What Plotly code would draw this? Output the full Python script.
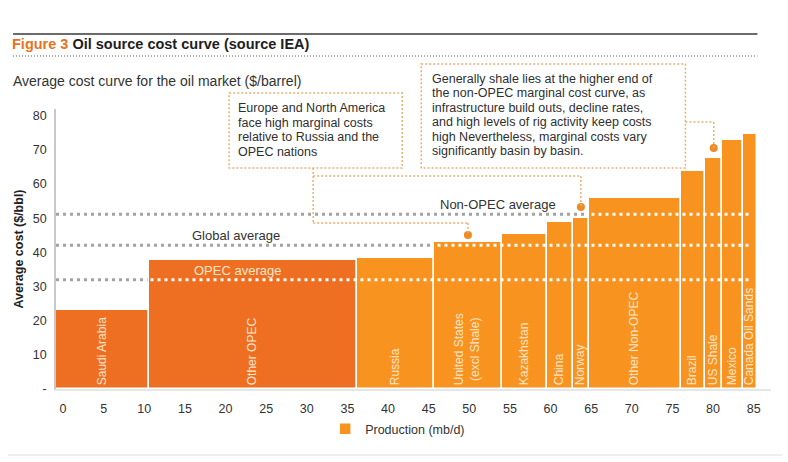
import plotly.graph_objects as go

# ---------------- data ----------------
sources = ["Saudi Arabia", "Other OPEC", "Russia", "United States<br>(excl Shale)", "Kazakhstan",
           "China", "Norway", "Other Non-OPEC", "Brazil", "US Shale", "Mexico", "Canada Oil Sands"]
production = [11.4, 25.6, 9.5, 8.4, 5.5, 3.2, 2.0, 11.3, 3.0, 2.1, 2.5, 1.8]   # mb/d (bar widths)
cost = [23.1, 37.7, 38.5, 43.1, 45.5, 48.9, 50.2, 56.0, 63.8, 67.7, 73.0, 74.8]  # $/bbl
is_opec = [True, True, False, False, False, False, False, False, False, False, False, False]

avg_names = ["OPEC average", "Global average", "Non-OPEC average"]
avg_values = [32.0, 42.1, 51.2]

x_ticks = list(range(0, 90, 5))
y_ticks = [0, 10, 20, 30, 40, 50, 60, 70, 80]
y_ticktext = ["-", "10", "20", "30", "40", "50", "60", "70", "80"]

note1_lines = ["Europe and North America", "face high marginal costs",
               "relative to Russia and the", "OPEC nations"]
note2_lines = ["Generally shale lies at the higher end of", "the non-OPEC marginal cost curve, as",
               "infrastructure build outs, decline rates,", "and high levels of rig activity keep costs",
               "high Nevertheless, marginal costs vary", "significantly basin by basin."]

# ---------------- layout geometry ----------------
FONT = "Liberation Sans, Arial, Helvetica, sans-serif"
OPEC_C = "#EE6E22"
NON_C = "#F7931E"
DOT_C = "#F08A24"
BOX_C = "#EDB070"
WIDTH, HEIGHT = 788, 462
L, T, B = 56, 109, 73
X_MAX, Y_MAX = 88.0, 82.0
PX_PER_UNIT = 8.12
PW = X_MAX * PX_PER_UNIT
PH = HEIGHT - T - B
R = WIDTH - L - PW


def pxx(px):
    return (px - L) / PW


def pxy(py):
    return (HEIGHT - B - py) / PH


def dx(v):
    return L + v / X_MAX * PW


def dy(v):
    return HEIGHT - B - v / Y_MAX * PH


starts = []
s = 0.0
for w in production:
    starts.append(s)
    s += w
total = s
mids = [a + w / 2 for a, w in zip(starts, production)]

fig = go.Figure()
for flag, name, show in [(True, "OPEC", False), (False, "Production (mb/d)", True)]:
    idx = [i for i in range(len(sources)) if is_opec[i] == flag]
    fig.add_trace(go.Bar(
        x=[mids[i] for i in idx], y=[cost[i] for i in idx], width=[production[i] for i in idx],
        text=[sources[i] for i in idx], textposition="inside", textangle=-90,
        insidetextanchor="start", textfont=dict(color="#FFE6CC", size=12, family=FONT),
        marker=dict(color=OPEC_C if flag else NON_C, line=dict(color="white", width=1.5)),
        name=name, showlegend=show, hoverinfo="skip"))

# callout dots above selected bars
callout_idx = [6, 3, 9]
dot_x = [mids[i] for i in callout_idx]
dot_y = [cost[6] + 3.1, cost[3] + 2.0, cost[9] + 2.9]
fig.add_trace(go.Scatter(x=dot_x, y=dot_y, mode="markers", cliponaxis=False,
                         marker=dict(color=DOT_C, size=8), showlegend=False, hoverinfo="skip"))

shapes = []
annots = []
# average lines: grey under bars, white over bars (white dots offset by half a period so they
# fall into the gaps of the grey pattern on the white background)
half = 3.5 / PX_PER_UNIT
for v in avg_values:
    shapes.append(dict(type="line", xref="x", yref="y", x0=0, x1=total - 1.0, y0=v, y1=v,
                       line=dict(color="#A2A2A2", width=3, dash="3px,4px"), layer="below"))
    shapes.append(dict(type="line", xref="x", yref="y", x0=half, x1=total - 1.0, y0=v, y1=v,
                       line=dict(color="white", width=3, dash="3px,4px"), layer="above"))

annots.append(dict(x=22.3, y=avg_values[0] + 2.8, xref="x", yref="y", text=avg_names[0],
                   showarrow=False, font=dict(color="#FFE6CC", size=13, family=FONT)))
annots.append(dict(x=22.2, y=avg_values[1] + 2.8, xref="x", yref="y", text=avg_names[1],
                   showarrow=False, font=dict(color="#333333", size=13, family=FONT)))
annots.append(dict(x=54.4, y=avg_values[2] + 2.7, xref="x", yref="y", text=avg_names[2],
                   showarrow=False, font=dict(color="#333333", size=13, family=FONT)))

# header lines
shapes.append(dict(type="line", xref="paper", yref="paper", x0=pxx(13), x1=pxx(757), y0=pxy(34), y1=pxy(34),
                   line=dict(color="#3A3A3A", width=1.6)))
shapes.append(dict(type="line", xref="paper", yref="paper", x0=pxx(13), x1=pxx(757), y0=pxy(56), y1=pxy(56),
                   line=dict(color="#555555", width=1, dash="1px,2px")))
shapes.append(dict(type="line", xref="paper", yref="paper", x0=pxx(8), x1=pxx(782), y0=pxy(455), y1=pxy(455),
                   line=dict(color="#EAEAEA", width=1.5)))

box = dict(color=BOX_C, width=1.5, dash="2px,2px")
# annotation box 1
shapes.append(dict(type="rect", xref="paper", yref="paper", x0=pxx(229), x1=pxx(402), y0=pxy(93), y1=pxy(168),
                   line=box, fillcolor="rgba(0,0,0,0)"))
for k, line in enumerate(note1_lines):
    annots.append(dict(x=pxx(236), y=pxy(108 + 14.6 * k), xref="paper", yref="paper", xanchor="left",
                       yanchor="middle", align="left", showarrow=False, text=line,
                       font=dict(color="#2F2F2F", size=12.5, family=FONT)))
# annotation box 2
shapes.append(dict(type="rect", xref="paper", yref="paper", x0=pxx(421), x1=pxx(685), y0=pxy(64), y1=pxy(168),
                   line=box, fillcolor="rgba(0,0,0,0)"))
for k, line in enumerate(note2_lines):
    annots.append(dict(x=pxx(430), y=pxy(79 + 14.4 * k), xref="paper", yref="paper", xanchor="left",
                       yanchor="middle", align="left", showarrow=False, text=line,
                       font=dict(color="#2F2F2F", size=12.5, family=FONT)))

# connectors
conn = dict(color=BOX_C, width=1.5, dash="2px,2px")


def seg(x0, y0, x1, y1):
    shapes.append(dict(type="line", xref="paper", yref="paper", x0=pxx(x0), x1=pxx(x1),
                       y0=pxy(y0), y1=pxy(y1), line=conn))


cx1 = 313
seg(cx1, 168, cx1, 223)
seg(cx1, 176, dx(dot_x[0]), 176)
seg(dx(dot_x[0]), 176, dx(dot_x[0]), dy(dot_y[0]))
seg(cx1, 223, dx(dot_x[1]), 223)
seg(dx(dot_x[1]), 223, dx(dot_x[1]), dy(dot_y[1]))
seg(685, 122, dx(dot_x[2]), 122)
seg(dx(dot_x[2]), 122, dx(dot_x[2]), dy(dot_y[2]))

# subtitle
annots.append(dict(x=pxx(11), y=pxy(81), xref="paper", yref="paper", xanchor="left",
                   yanchor="middle", showarrow=False, text="Average cost curve for the oil market ($/barrel)",
                   font=dict(color="#333333", size=14, family=FONT)))

fig.update_layout(
    width=WIDTH, height=HEIGHT,
    margin=dict(l=L, r=R, t=T, b=B, autoexpand=False),
    paper_bgcolor="white", plot_bgcolor="white",
    font=dict(family=FONT, color="#333333"),
    title=dict(text="<b><span style='color:#E8731E'>Figure 3</span> Oil source cost curve (source IEA)</b>",
               xref="container", yref="container", x=12 / WIDTH, y=1 - 44 / HEIGHT,
               xanchor="left", yanchor="middle", font=dict(size=14.5, color="#1E1E1E", family=FONT)),
    bargap=0,
    barmode="overlay",
    shapes=shapes, annotations=annots,
    showlegend=True,
    legend=dict(orientation="h", x=pxx(325), y=pxy(429), xanchor="left", yanchor="middle",
                font=dict(size=12.5, color="#333333"), bgcolor="rgba(0,0,0,0)"),
    xaxis=dict(range=[0, X_MAX], tickvals=x_ticks, ticktext=[str(t) for t in x_ticks],
               ticklabelshift=7, showgrid=False, zeroline=False, showline=True, linecolor="#E6E6E6",
               linewidth=2, ticks="outside", ticklen=7, tickcolor="rgba(0,0,0,0)",
               tickfont=dict(size=12.5, color="#333333"), fixedrange=True),
    yaxis=dict(range=[0, Y_MAX], tickvals=y_ticks, ticktext=y_ticktext, showgrid=False, zeroline=False,
               showline=True, linecolor="#C8C8C8", linewidth=1.5, ticks="outside", ticklen=5,
               tickcolor="rgba(0,0,0,0)", tickfont=dict(size=12.5, color="#333333"),
               title=dict(text="<b>Average cost ($/bbl)</b>", standoff=6,
                          font=dict(size=12.5, color="#222222")), fixedrange=True),
    uniformtext=dict(mode="show", minsize=12),
)

fig.write_html("out.html")
